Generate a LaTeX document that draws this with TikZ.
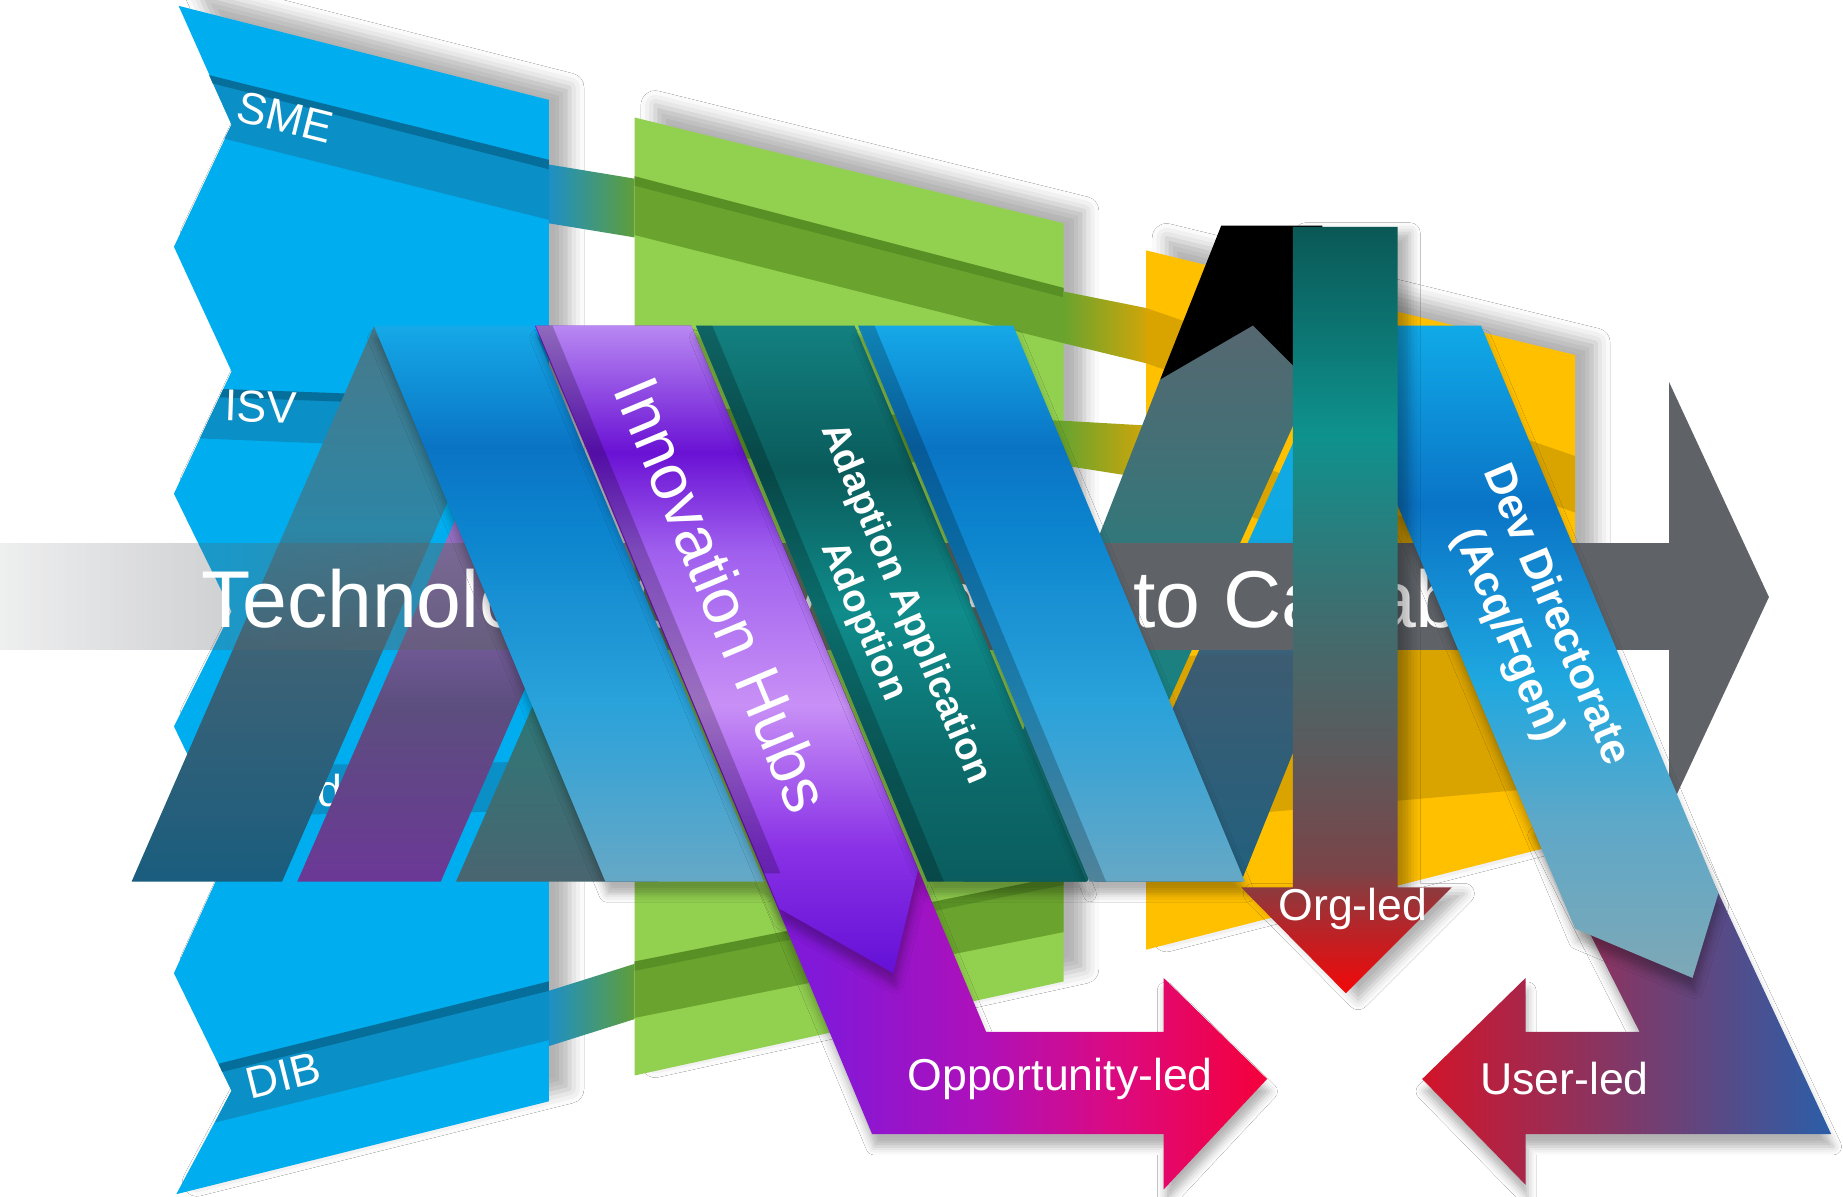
\documentclass[tikz,border=0pt]{standalone}
\usepackage{fontspec}
\setmainfont{Liberation Sans}
\usetikzlibrary{shadows.blur,fadings}

\definecolor{pBlue}{HTML}{00AEEF}
\definecolor{pBand}{HTML}{0A8FC6}
\definecolor{pBandDk}{HTML}{05668F}
\definecolor{gGreen}{HTML}{92D050}
\definecolor{gBand}{HTML}{6AA42E}
\definecolor{gBandDk}{HTML}{4E8420}
\definecolor{yYel}{HTML}{FFC000}
\definecolor{yBand}{HTML}{DAA400}
\definecolor{tGray}{HTML}{5F6368}
\definecolor{cnA}{HTML}{1E8FC6}
\definecolor{cnB}{HTML}{5F9E3A}
\definecolor{cnC}{HTML}{6AA42E}
\definecolor{cnD}{HTML}{CFA50A}
\definecolor{oA}{HTML}{8218D8}
\definecolor{oB}{HTML}{B010B8}
\definecolor{oD}{HTML}{DC0A80}
\definecolor{oC}{HTML}{F5003A}
\definecolor{uA}{HTML}{D2142A}
\definecolor{uB}{HTML}{7A3468}
\definecolor{uC}{HTML}{2B5EA8}
\definecolor{rbA}{HTML}{66A8C6}\definecolor{rbB}{HTML}{2AA2DA}\definecolor{rbC}{HTML}{0C84CE}
\definecolor{rbD}{HTML}{0A74C4}\definecolor{rbE}{HTML}{15A9E8}
\definecolor{ppA}{HTML}{6410D6}\definecolor{ppB}{HTML}{8A32E6}\definecolor{ppC}{HTML}{C890F6}
\definecolor{ppD}{HTML}{A060EE}\definecolor{ppE}{HTML}{6A12D4}\definecolor{ppF}{HTML}{B888F2}
\definecolor{tlA}{HTML}{0B5D5E}\definecolor{tlB}{HTML}{0C6B6B}\definecolor{tlC}{HTML}{0F8C8B}
\definecolor{tlD}{HTML}{0A5B5B}\definecolor{tlE}{HTML}{138080}
\definecolor{dvA}{HTML}{7EA8B6}\definecolor{dvB}{HTML}{5EA8C8}\definecolor{dvC}{HTML}{1FA8E0}
\definecolor{dvD}{HTML}{0A74C6}\definecolor{dvE}{HTML}{10AAE8}
\definecolor{orA}{HTML}{F20808}\definecolor{orB}{HTML}{B82428}\definecolor{orC}{HTML}{7A4448}
\definecolor{orD}{HTML}{5C5A5C}\definecolor{orE}{HTML}{3E6E70}\definecolor{orF}{HTML}{0E928E}
\definecolor{orG}{HTML}{0A5856}
\definecolor{sOA}{HTML}{1A5D7E}\definecolor{sOB}{HTML}{3C6276}\definecolor{sOC}{HTML}{2C86A6}
\definecolor{sOD}{HTML}{47798A}
\definecolor{sTA}{HTML}{6B3896}\definecolor{sTB}{HTML}{5C4E7E}\definecolor{sTC}{HTML}{9A72C8}
\definecolor{sHA}{HTML}{496570}\definecolor{sHB}{HTML}{2E7878}
\definecolor{glA}{HTML}{167C7C}\definecolor{glB}{HTML}{1C8080}\definecolor{glC}{HTML}{3F7277}
\definecolor{glD}{HTML}{566770}
\definecolor{clA}{HTML}{22607E}\definecolor{clB}{HTML}{3C5C72}\definecolor{clC}{HTML}{10A8E2}
\definecolor{clD}{HTML}{12ACE8}

\pgfdeclareverticalshading{shBlue}{100bp}{color(0bp)=(rbA); color(25bp)=(rbA); color(40.9bp)=(rbB); color(56.7bp)=(rbC); color(64.1bp)=(rbD); color(75bp)=(rbE); color(100bp)=(rbE)}
\pgfdeclareverticalshading{shPurple}{100bp}{color(0bp)=(ppA); color(25bp)=(ppA); color(34.8bp)=(ppB); color(45.7bp)=(ppC); color(57.5bp)=(ppD); color(65.2bp)=(ppE); color(75bp)=(ppF); color(100bp)=(ppF)}
\pgfdeclareverticalshading{shTeal}{100bp}{color(0bp)=(tlA); color(25bp)=(tlA); color(35.6bp)=(tlB); color(49.3bp)=(tlC); color(62bp)=(tlD); color(75bp)=(tlE); color(100bp)=(tlE)}
\pgfdeclareverticalshading{shDev}{100bp}{color(0bp)=(dvA); color(25bp)=(dvA); color(36.9bp)=(dvB); color(47.7bp)=(dvC); color(61.2bp)=(dvD); color(75bp)=(dvE); color(100bp)=(dvE)}
\pgfdeclareverticalshading{shOrg}{100bp}{color(0bp)=(orA); color(25bp)=(orA); color(29.2bp)=(orB); color(33bp)=(orC); color(40.7bp)=(orD); color(49.9bp)=(orE); color(61.4bp)=(orF); color(75bp)=(orG); color(100bp)=(orG)}
\pgfdeclareverticalshading{shSone}{100bp}{color(0bp)=(sOA); color(25bp)=(sOA); color(45.1bp)=(sOB); color(56.8bp)=(sOC); color(75bp)=(sOD); color(100bp)=(sOD)}
\pgfdeclareverticalshading{shStwo}{100bp}{color(0bp)=(sTA); color(25bp)=(sTA); color(49.4bp)=(sTB); color(75bp)=(sTC); color(100bp)=(sTC)}
\pgfdeclareverticalshading{shSthree}{100bp}{color(0bp)=(sHA); color(25bp)=(sHA); color(75bp)=(sHB); color(100bp)=(sHB)}
\pgfdeclareverticalshading{shGL}{100bp}{color(0bp)=(glA); color(25bp)=(glA); color(45bp)=(glB); color(62bp)=(glC); color(75bp)=(glD); color(100bp)=(glD)}
\pgfdeclareverticalshading{shCL}{100bp}{color(0bp)=(clA); color(25bp)=(clA); color(45.2bp)=(clB); color(56.4bp)=(clC); color(75bp)=(clD); color(100bp)=(clD)}
\pgfdeclarehorizontalshading{shOpp}{100bp}{color(0bp)=(oA); color(25bp)=(oA); color(44.7bp)=(oA); color(55.9bp)=(oB); color(64.7bp)=(oD); color(75bp)=(oC); color(100bp)=(oC)}

\tikzfading[name=bandfade, left color=transparent!90, right color=transparent!0]

\begin{document}
\begin{tikzpicture}[x=0.01cm,y=-0.01cm,
  lbl/.style={text=white,font=\fontsize{10.8}{12}\selectfont,inner sep=0pt},
  ribtxt/.style={text=white,inner sep=0pt,align=center,rotate=-67.35},
  psh/.style={blur shadow={shadow xshift=5pt,shadow yshift=3pt,shadow blur radius=3.5pt,shadow opacity=30}},
  rsh/.style={blur shadow={shadow xshift=0.5pt,shadow yshift=-3pt,shadow blur radius=2pt,shadow opacity=30}},
  fold/.style={fill=black,fill opacity=.22}
]
\fill[white] (0,0) rectangle (1568,1018);
\useasboundingbox (0,0) rectangle (1568,1018);

% ---------- blue source panel ----------
\fill[pBlue,psh] (152,5) -- (467,85) -- (467,937) -- (150,1016) -- (197,928) -- (148,828)
  -- (197,720) -- (148,618) -- (197,520) -- (148,420) -- (197,316) -- (148,210) -- (197,106) -- cycle;
\fill[pBand] (178,64) -- (467,136) -- (467,187) -- (191,118) -- (197,106) -- cycle;
\fill[pBandDk,opacity=.8] (178,64) -- (467,136) -- (467,144) -- (181,71) -- cycle;
\fill[pBand] (190,331) -- (467,341) -- (467,385) -- (170,373) -- cycle;
\fill[pBandDk,opacity=.8] (190,331) -- (467,341) -- (467,348) -- (187,338) -- cycle;
\fill[pBand] (164,652) -- (467,648) -- (467,690) -- (184,694) -- cycle;
\fill[pBand] (186,905) -- (467,835) -- (467,885) -- (183,955) -- (197,928) -- cycle;
\fill[pBandDk,opacity=.8] (186,905) -- (467,835) -- (467,843) -- (189,912) -- cycle;
\node[lbl,rotate=-14] (sme) at (243,100) {SME};
\node[lbl,rotate=-2] (isv) at (222,346) {ISV};
\node[lbl] (dfrag) at (281,673) {d};
\node[lbl,rotate=14] (dib) at (241,915) {DIB};

% ---------- connectors blue -> green ----------
\shade[left color=cnA,right color=cnB] (467,140) -- (540,152) -- (540,202) -- (467,190) -- cycle;
\shade[left color=cnA,right color=cnB] (467,843) -- (540,820) -- (540,867) -- (467,890) -- cycle;

% ---------- green panel ----------
\fill[gGreen,psh] (540,100) -- (905,190) -- (905,835) -- (540,915) -- cycle;
\fill[gBand] (540,150) -- (905,245) -- (905,292) -- (540,200) -- cycle;
\fill[gBandDk,opacity=.6] (540,150) -- (905,245) -- (905,253) -- (540,158) -- cycle;
\fill[gBand] (540,345) -- (905,358) -- (905,396) -- (540,388) -- cycle;
\fill[gBand] (540,818) -- (905,745) -- (905,793) -- (540,866) -- cycle;
\fill[gBandDk,opacity=.6] (540,818) -- (905,745) -- (905,753) -- (540,826) -- cycle;

% ---------- connectors green -> yellow ----------
\shade[left color=cnC,right color=cnD] (905,248) -- (975,262) -- (975,309) -- (905,292) -- cycle;
\shade[left color=cnC,right color=cnD] (905,358) -- (975,362) -- (975,407) -- (905,396) -- cycle;

% ---------- yellow panel ----------
\fill[yYel,psh] (975,213) -- (1340,302) -- (1340,715) -- (975,808) -- cycle;
\fill[yBand] (975,262) -- (1340,388) -- (1340,436) -- (975,309) -- cycle;
\fill[yBand] (975,362) -- (1340,492) -- (1340,540) -- (975,407) -- cycle;
\fill[yBand] (975,560) -- (1340,540) -- (1340,668) -- (975,700) -- cycle;

% ---------- left "A" strips ----------
\shade[shading=shSone] (318,278) -- (112,750) -- (240,750) -- (404,374) -- (380,278) -- cycle;
\shade[shading=shStwo] (253,750) -- (375,750) -- (509,443) -- (387,443) -- cycle;
\shade[shading=shSthree] (388,750) -- (560,750) -- (520,601) -- (453,601) -- cycle;

% ---------- right "A" legs ----------
\fill[black] (1039,192) -- (1125,192) -- (1125,330) -- (987,323) -- cycle;
\shade[shading=shGL] (987,323) -- (1066,277) -- (1116,327) -- (925,750) -- (820,750) -- cycle;
\shade[shading=shCL] (1144,280) -- (1245,280) -- (1056,750) -- (931,750) -- cycle;

% ---------- technology arrow ----------
\fill[tGray,path fading=bandfade] (0,462) rectangle (900,553);
\fill[tGray] (900,462) -- (1420,462) -- (1420,325) -- (1505,508) -- (1420,690) -- (1420,553) -- (900,553) -- cycle;
\node[anchor=base west,text=white,inner sep=0pt,font=\fontsize{19.5}{22}\selectfont] (title) at (171,534)
  {Technology Convergence to Capability};

% ---------- opportunity-led L arrow ----------
\shade[shading=shOpp,rsh] (455,277) -- (588,277) -- (839,878) -- (990,878)
  -- (990,832) -- (1078,918) -- (990,1012) -- (990,965) -- (742,965) -- cycle;

% ---------- ribbons ----------
\shade[shading=shBlue,rsh] (318,277) -- (453,277) -- (650,750) -- (515,750) -- cycle;
\shade[shading=shPurple,rsh] (456,277) -- (588,277) -- (781,740) -- (760,828) -- (663,773) -- cycle;
\fill[fold] (456,277) -- (470,277) -- (664,743) -- (650,743) -- cycle;
\shade[shading=shTeal,rsh] (592,277) -- (727,277) -- (924,750) -- (789,750) -- cycle;
\fill[fold] (592,277) -- (606,277) -- (803,750) -- (789,750) -- cycle;
\shade[shading=shBlue,rsh] (730,277) -- (862,277) -- (1059,750) -- (927,750) -- cycle;
\fill[fold] (730,277) -- (744,277) -- (941,750) -- (927,750) -- cycle;

\node[ribtxt,font=\fontsize{15.5}{18}\selectfont] (innov) at (615,506) {Innovation Hubs};
\node[ribtxt,font=\bfseries\fontsize{9.3}{11}\selectfont] (adapt) at (752,521) {Adaption Application\\Adoption};

% ---------- user-led arrow ----------
\shade[left color=uA,middle color=uB,right color=uC,rsh] (1305,700) -- (1434,700) -- (1558,965) -- (1298,965)
  -- (1298,1008) -- (1210,918) -- (1298,832) -- (1298,878) -- (1395,878) -- cycle;

% ---------- dev directorate ribbon ----------
\shade[shading=shDev,rsh] (1125,277) -- (1260,277) -- (1462,760) -- (1440,832) -- (1340,790) -- cycle;
\node[ribtxt,font=\bfseries\fontsize{10.5}{12.6}\selectfont] (dev) at (1303,532) {Dev Directorate\\(Acq/Fgen)};

% ---------- org-led bar ----------
\shade[shading=shOrg,blur shadow={shadow xshift=3pt,shadow yshift=-1.5pt,shadow blur radius=2.5pt,shadow opacity=30}]
  (1100,193) -- (1189,193) -- (1189,755) -- (1235,755) -- (1145,845) -- (1056,755) -- (1100,755) -- cycle;

% ---------- labels ----------
\node[lbl] (opp) at (902,918) {Opportunity-led};
\node[lbl] (user) at (1331,918) {User-led};
\node[lbl] (org) at (1151,773) {Org-led};
\end{tikzpicture}
\end{document}
